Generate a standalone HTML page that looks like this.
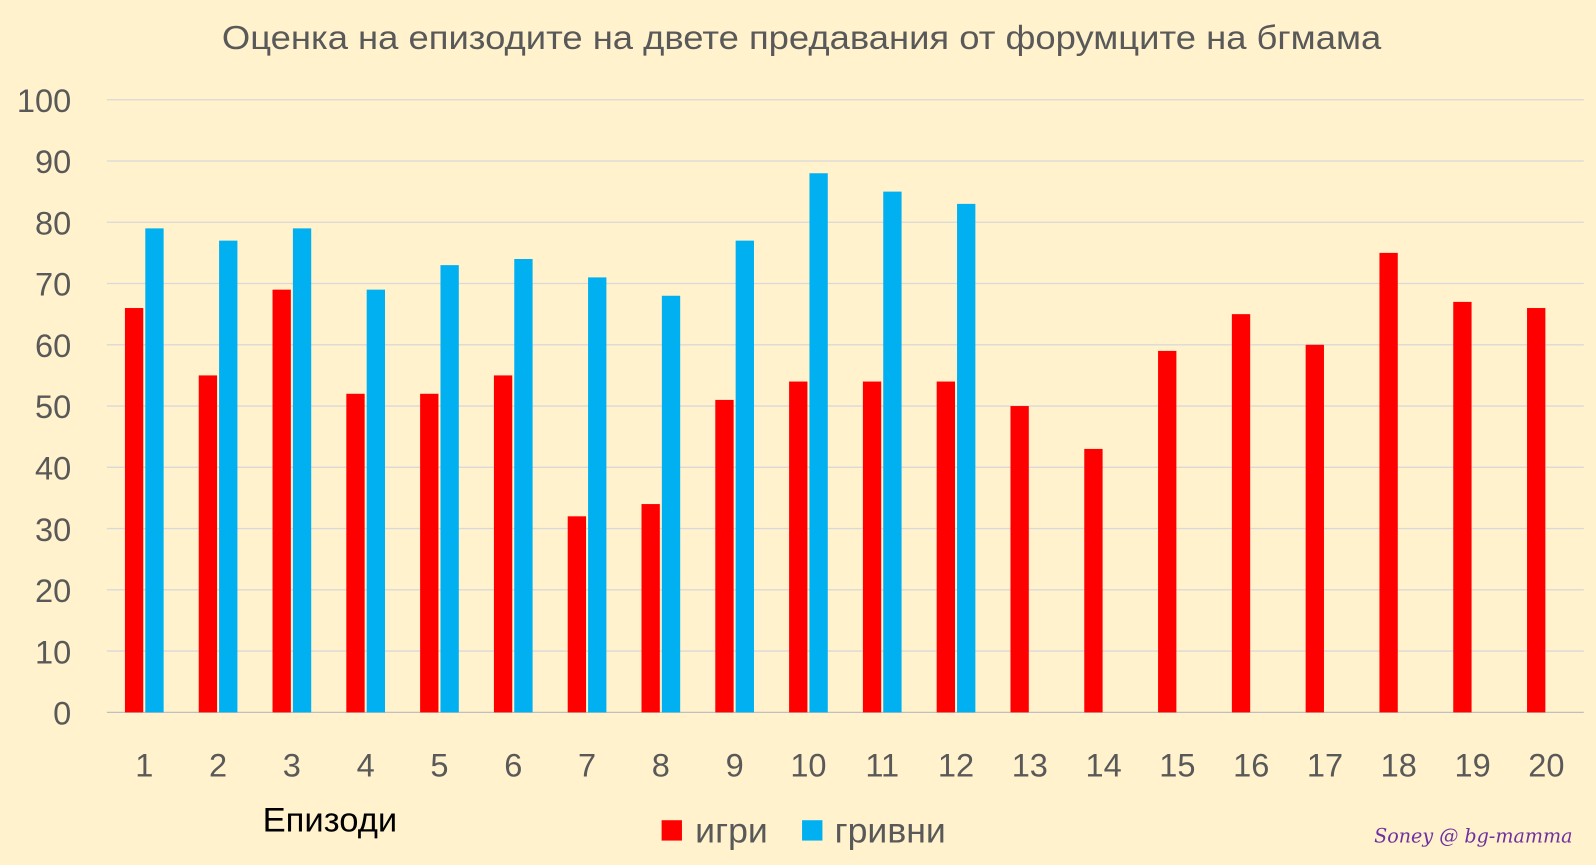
<!DOCTYPE html>
<html><head><meta charset="utf-8">
<style>
html,body{margin:0;padding:0;background:#FFF2CC;}
svg{display:block;font-family:"Liberation Sans","DejaVu Sans",sans-serif;}
</style></head><body>
<svg width="1596" height="865" viewBox="0 0 1568 850" preserveAspectRatio="none" xmlns="http://www.w3.org/2000/svg">
<rect width="1568" height="850" fill="#FFF2CC"/>
<text x="218" y="48" font-size="33" fill="#595959" textLength="1139" lengthAdjust="spacingAndGlyphs">Оценка на епизодите на двете предавания от форумците на бгмама</text>
<g id="grid" stroke="#D9D9D9" stroke-width="1.3"></g>
<g id="ylab" font-size="32" fill="#595959" text-anchor="end"></g>
<g id="bars"></g>
<g id="xlab" font-size="32" fill="#595959" text-anchor="middle"></g>
<text x="258" y="817" font-size="34" fill="#000">Епизоди</text>
<rect x="650" y="806" width="20" height="20" fill="#FF0000"/>
<text x="683" y="828" font-size="35" fill="#595959">игри</text>
<rect x="788" y="806" width="20" height="20" fill="#00B0F0"/>
<text x="820" y="828" font-size="35" fill="#595959">гривни</text>
<text x="1350" y="828" font-size="19" font-style="italic" fill="#7030A0" font-family="'DejaVu Serif',serif" textLength="195" lengthAdjust="spacingAndGlyphs">Soney @ bg-mamma</text>
</svg>
<script>
var ns="http://www.w3.org/2000/svg";
function el(p,t,a,txt){var e=document.createElementNS(ns,t);for(var k in a)e.setAttribute(k,a[k]);if(txt!==undefined)e.textContent=txt;document.getElementById(p).appendChild(e);}
var y0=700,s=6.02;
for(var v=0;v<=100;v+=10){var y=y0-v*s;
 if(v>0)el("grid","line",{x1:105,x2:1556,y1:y,y2:y});
 el("ylab","text",{x:70,y:y+12},v);}
el("grid","line",{x1:105,x2:1556,y1:700,y2:700,stroke:"#BFBFBF"});
var red=[66,55,69,52,52,55,32,34,51,54,54,54,50,43,59,65,60,75,67,66];
var blue=[79,77,79,69,73,74,71,68,77,88,85,83];
for(var i=0;i<20;i++){var c=105.5+72.5*(i+0.5);
 el("bars","rect",{x:c-19,y:y0-red[i]*s,width:18,height:red[i]*s,fill:"#FF0000"});
 if(i<12)el("bars","rect",{x:c+1,y:y0-blue[i]*s,width:18,height:blue[i]*s,fill:"#00B0F0"});
 el("xlab","text",{x:c,y:763},i+1);}
</script>
</body></html>
